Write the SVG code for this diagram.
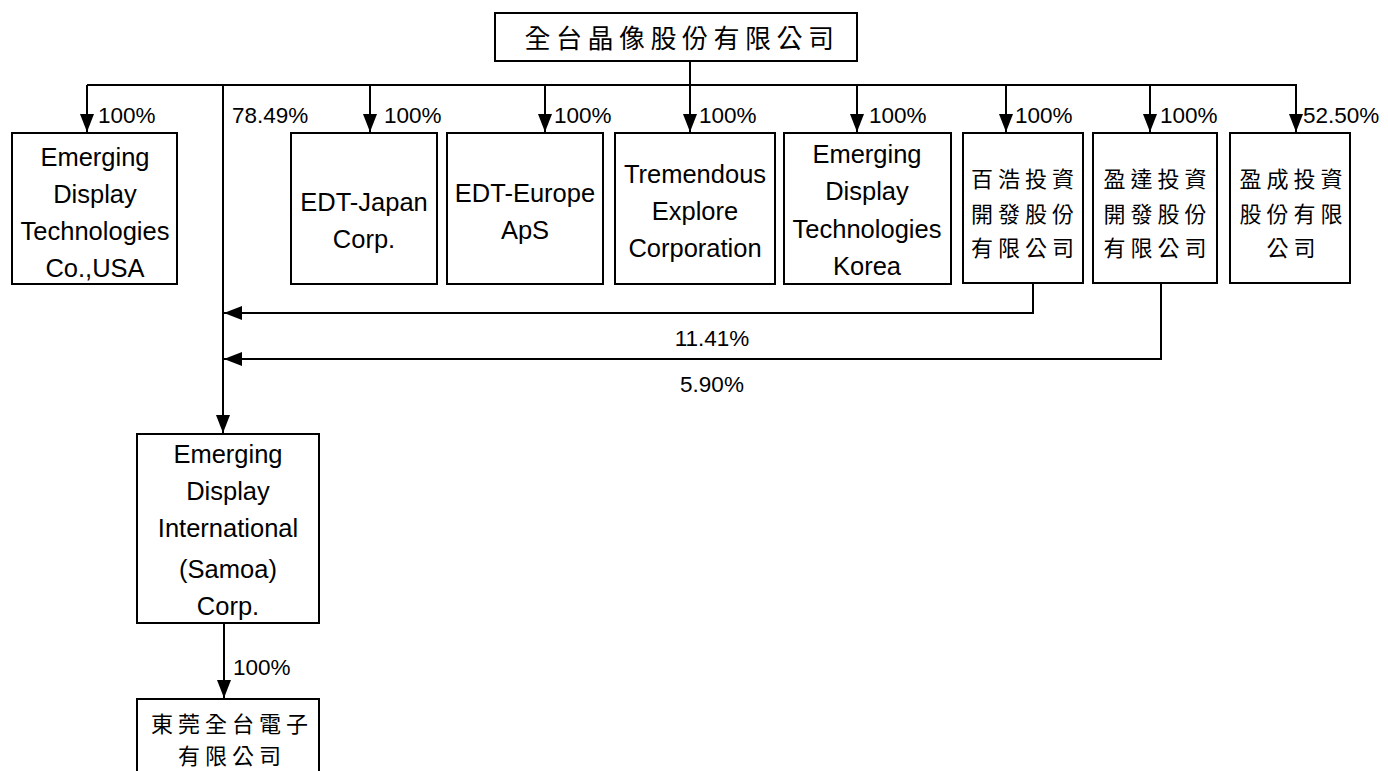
<svg xmlns="http://www.w3.org/2000/svg" width="1388" height="771" viewBox="0 0 1388 771">
<style>
  .box { fill: #fff; stroke: #000; stroke-width: 2; }
  .ln { fill: none; stroke: #000; stroke-width: 2; }
  .en { font-family: "Liberation Sans", Arial, sans-serif; font-size: 25.5px; fill: #000; text-anchor: middle; }
  .pc { font-family: "Liberation Sans", Arial, sans-serif; font-size: 22.5px; fill: #000; }
  .cj { font-family: "Noto Sans CJK TC", "Noto Sans CJK SC", sans-serif; font-size: 22px; fill: #000; text-anchor: middle; letter-spacing: 5px; }
</style>
<defs>
  <marker id="ah" viewBox="0 0 18 14" refX="18" refY="7" markerWidth="18" markerHeight="14" markerUnits="userSpaceOnUse" orient="auto">
    <path d="M0,0 L18,7 L0,14 z" fill="#000"/>
  </marker>
</defs>
<rect width="1388" height="771" fill="#fff"/>

<g id="connectors">
  <path class="ln" d="M690,61 V85"/>
  <path class="ln" d="M87,85 H1297"/>
  <path class="ln" d="M87,85 V132" marker-end="url(#ah)"/>
  <path class="ln" d="M223,85 V433" marker-end="url(#ah)"/>
  <path class="ln" d="M370,85 V132" marker-end="url(#ah)"/>
  <path class="ln" d="M545,85 V132" marker-end="url(#ah)"/>
  <path class="ln" d="M690,85 V132" marker-end="url(#ah)"/>
  <path class="ln" d="M857,85 V132" marker-end="url(#ah)"/>
  <path class="ln" d="M1006,85 V132" marker-end="url(#ah)"/>
  <path class="ln" d="M1150,85 V132" marker-end="url(#ah)"/>
  <path class="ln" d="M1296,85 V132" marker-end="url(#ah)"/>
  <path class="ln" d="M1033,284 V313 H224" marker-end="url(#ah)"/>
  <path class="ln" d="M1161,284 V359 H224" marker-end="url(#ah)"/>
  <path class="ln" d="M224,623 V698" marker-end="url(#ah)"/>
  <text class="pc" x="98" y="123">100%</text>
  <text class="pc" x="232" y="123">78.49%</text>
  <text class="pc" x="384" y="123">100%</text>
  <text class="pc" x="554" y="123">100%</text>
  <text class="pc" x="699" y="123">100%</text>
  <text class="pc" x="869" y="123">100%</text>
  <text class="pc" x="1015" y="123">100%</text>
  <text class="pc" x="1160" y="123">100%</text>
  <text class="pc" x="1303" y="123">52.50%</text>
  <text class="pc" x="712" y="346" text-anchor="middle">11.41%</text>
  <text class="pc" x="712" y="392" text-anchor="middle">5.90%</text>
  <text class="pc" x="233" y="675">100%</text>
</g>

<g id="parent">
  <rect class="box" x="495" y="13" width="362" height="48"/>
  <text class="cj" x="682" y="48" style="font-size:26px;letter-spacing:5.5px">全台晶像股份有限公司</text>
</g>

<g id="edt-usa">
  <rect class="box" x="12" y="133" width="165" height="151"/>
  <text class="en" x="95" y="166">Emerging</text>
  <text class="en" x="95" y="203">Display</text>
  <text class="en" x="95" y="240">Technologies</text>
  <text class="en" x="95" y="277">Co.,USA</text>
</g>

<g id="edt-japan">
  <rect class="box" x="291" y="133" width="146" height="151"/>
  <text class="en" x="364" y="211">EDT-Japan</text>
  <text class="en" x="364" y="248">Corp.</text>
</g>

<g id="edt-europe">
  <rect class="box" x="447" y="133" width="156" height="151"/>
  <text class="en" x="525" y="202">EDT-Europe</text>
  <text class="en" x="525" y="239">ApS</text>
</g>

<g id="tremendous">
  <rect class="box" x="615" y="133" width="160" height="151"/>
  <text class="en" x="695" y="183">Tremendous</text>
  <text class="en" x="695" y="220">Explore</text>
  <text class="en" x="695" y="257">Corporation</text>
</g>

<g id="edt-korea">
  <rect class="box" x="784" y="133" width="167" height="151"/>
  <text class="en" x="867" y="163">Emerging</text>
  <text class="en" x="867" y="200">Display</text>
  <text class="en" x="867" y="238">Technologies</text>
  <text class="en" x="867" y="275">Korea</text>
</g>

<g id="baihao">
  <rect class="box" x="963" y="133" width="120" height="150"/>
  <text class="cj" x="1025" y="187">百浩投資</text>
  <text class="cj" x="1025" y="222">開發股份</text>
  <text class="cj" x="1025" y="256">有限公司</text>
</g>

<g id="yingda">
  <rect class="box" x="1093" y="133" width="124" height="150"/>
  <text class="cj" x="1157.5" y="187">盈達投資</text>
  <text class="cj" x="1157.5" y="222">開發股份</text>
  <text class="cj" x="1157.5" y="256">有限公司</text>
</g>

<g id="yingcheng">
  <rect class="box" x="1230" y="133" width="120" height="150"/>
  <text class="cj" x="1293.5" y="187">盈成投資</text>
  <text class="cj" x="1293.5" y="222">股份有限</text>
  <text class="cj" x="1293.5" y="256">公司</text>
</g>

<g id="edi-samoa">
  <rect class="box" x="137" y="434" width="182" height="189"/>
  <text class="en" x="228" y="463">Emerging</text>
  <text class="en" x="228" y="500">Display</text>
  <text class="en" x="228" y="537">International</text>
  <text class="en" x="228" y="578">(Samoa)</text>
  <text class="en" x="228" y="615">Corp.</text>
</g>

<g id="dongguan">
  <rect class="box" x="137" y="699" width="182" height="80"/>
  <text class="cj" x="232" y="732">東莞全台電子</text>
  <text class="cj" x="232" y="764">有限公司</text>
</g>
</svg>
